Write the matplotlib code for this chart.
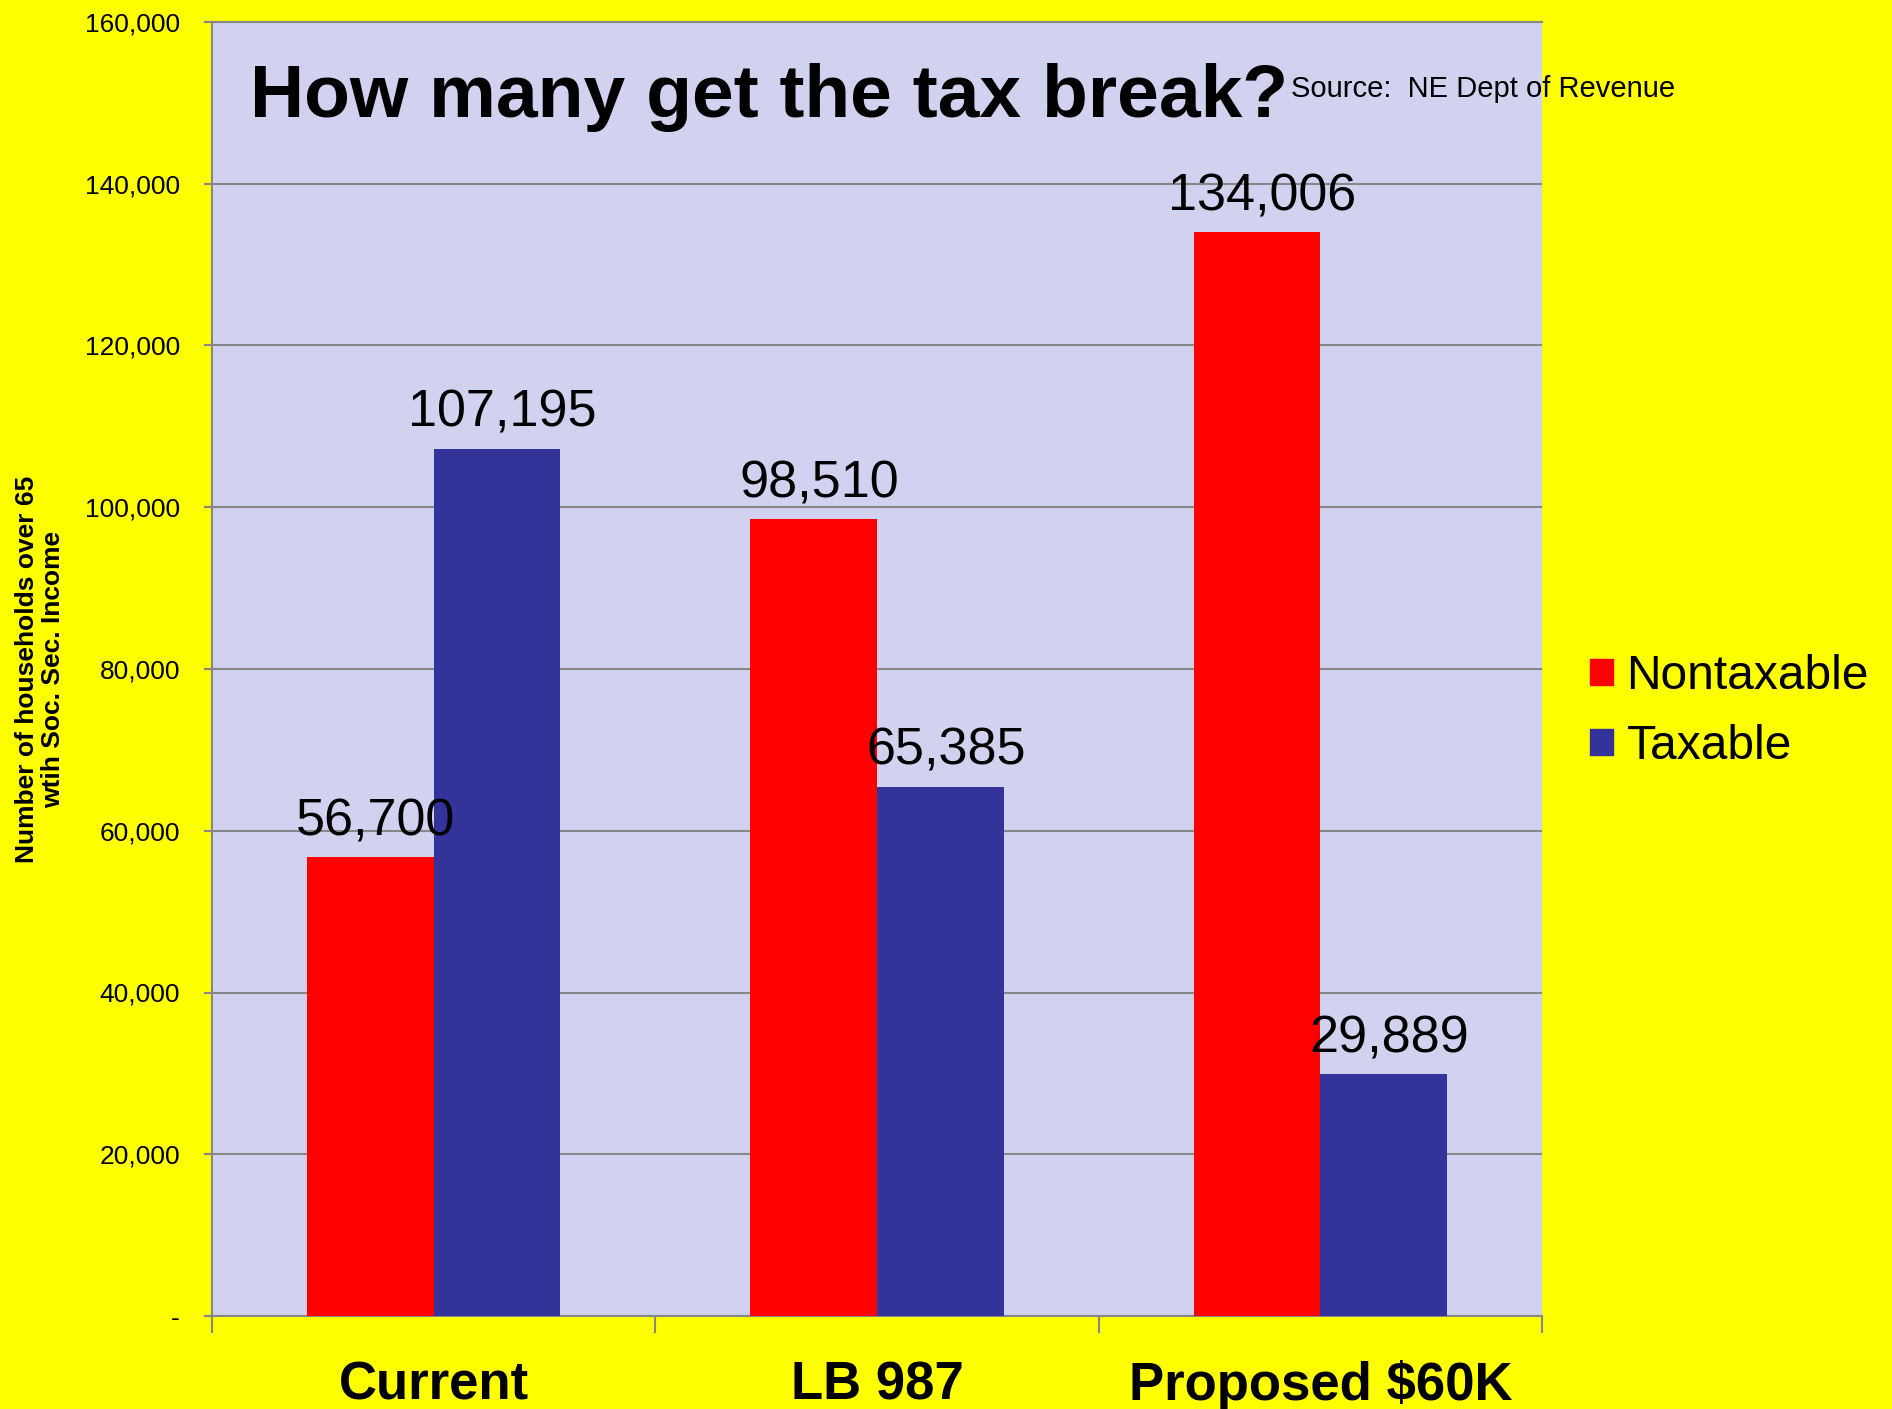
import numpy as np
import matplotlib
matplotlib.use('Agg')
import matplotlib.pyplot as plt
from matplotlib.patches import Patch
from matplotlib.ticker import FuncFormatter, FixedLocator

plt.rcParams['font.family'] = ['Liberation Sans', 'DejaVu Sans']

# Households over 65 with Social Security income, by plan
categories = ['Current', 'LB 987', 'Proposed $60K']
nontaxable = [56700, 98510, 134006]
taxable = [107195, 65385, 29889]
series_names = ['Nontaxable', 'Taxable']
y_ticks = [0, 20000, 40000, 60000, 80000, 100000, 120000, 140000, 160000]

RED = '#FF0000'
BLUE = '#333399'
PLOT_BG = '#D1D2EF'
GRID = '#878787'


def fmt_thousands(v, pos):
    if v == 0:
        return '-'
    return '{:,.0f}'.format(v)


def main():
    fig = plt.figure(figsize=(18.92, 14.09), dpi=100)
    fig.patch.set_facecolor('#FFFF00')
    ax = fig.add_axes([212 / 1892, 1 - 1316 / 1409, 1330 / 1892, 1294 / 1409])
    ax.set_facecolor(PLOT_BG)

    x = np.arange(len(categories))
    width = 0.286
    bars_n = ax.bar(x - width / 2, nontaxable, width, color=RED, zorder=3)
    bars_t = ax.bar(x + width / 2, taxable, width, color=BLUE, zorder=3)

    # value labels sit just above each bar
    for bars, vals in ((bars_n, nontaxable), (bars_t, taxable)):
        for b, v in zip(bars, vals):
            ax.annotate('{:,}'.format(v), (b.get_x() + b.get_width() / 2, v),
                        xytext=(4, 16), textcoords='offset points',
                        ha='center', va='baseline', fontsize=37.5, zorder=4)

    ax.set_xlim(-0.5, len(categories) - 0.5)
    ax.set_ylim(0, 160000)

    # y axis
    ax.yaxis.set_major_locator(FixedLocator(y_ticks))
    ax.yaxis.set_major_formatter(FuncFormatter(fmt_thousands))
    ax.tick_params(axis='y', length=6, width=1.5, color=GRID, pad=17, labelsize=19)
    ax.grid(axis='y', color=GRID, linewidth=1.5, zorder=1)

    # x axis: boundary ticks, labels in between
    ax.xaxis.set_major_locator(FixedLocator(np.arange(len(categories) + 1) - 0.5))
    ax.xaxis.set_major_formatter(FuncFormatter(lambda v, p: ''))
    ax.set_xticks(x, minor=True)
    ax.set_xticklabels(categories, minor=True, fontsize=38, fontweight='bold')
    ax.tick_params(axis='x', which='major', length=12, width=1.5, color=GRID)
    ax.tick_params(axis='x', which='minor', length=0, pad=32)

    for side in ('left', 'bottom', 'top'):
        ax.spines[side].set_color(GRID)
        ax.spines[side].set_linewidth(1.5)
    ax.spines['right'].set_visible(False)

    ax.set_ylabel('Number of households over 65\nwtih Soc. Sec. Income',
                  fontsize=19, fontweight='bold', linespacing=1.15)
    ax.yaxis.label.set_va('center')
    ax.yaxis.set_label_coords((40 - 212) / 1330, 0.5)

    fig.text(250 / 1892, 1 - 117 / 1409, 'How many get the tax break?',
             fontsize=54, fontweight='bold', va='baseline', ha='left')
    fig.text(1291 / 1892, 1 - 97 / 1409, 'Source:  NE Dept of Revenue',
             fontsize=21, va='baseline', ha='left')

    handles = [Patch(color=RED), Patch(color=BLUE)]
    fig.legend(handles, series_names, loc='upper left',
               bbox_to_anchor=(1590 / 1892, 1 - 654 / 1409),
               frameon=False, fontsize=34.5, borderpad=0, borderaxespad=0,
               handlelength=0.48, handleheight=0.48, handletextpad=0.28,
               labelspacing=0.52)

    fig.savefig('out.png', dpi=100, facecolor=fig.get_facecolor())


if __name__ == '__main__':
    main()
